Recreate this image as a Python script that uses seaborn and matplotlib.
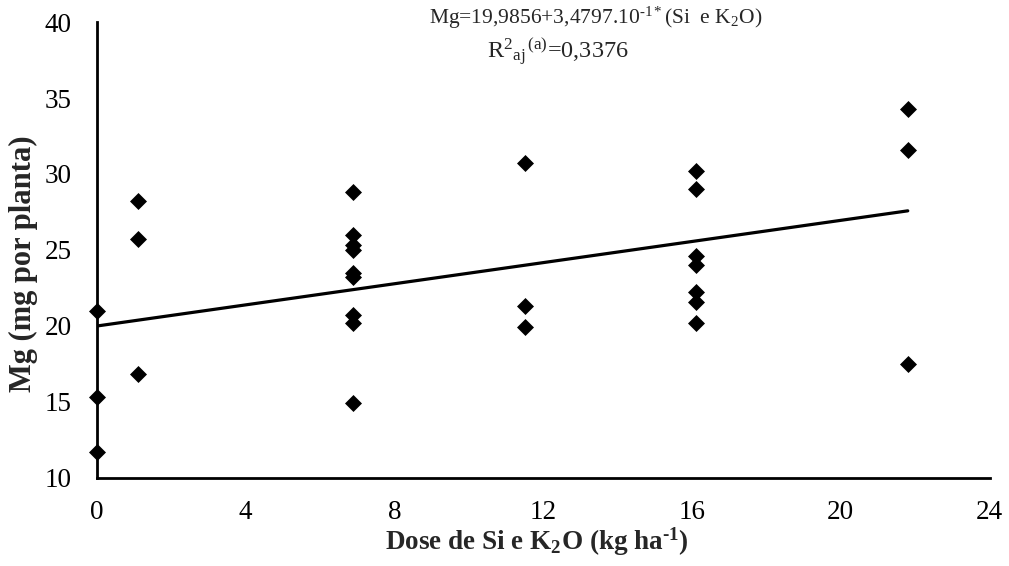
import numpy as np
import pandas as pd
import matplotlib
matplotlib.use("Agg")
import matplotlib.pyplot as plt
import seaborn as sns

# Data
dose = [0, 0, 0,
        1.1, 1.1, 1.1,
        6.9, 6.9, 6.9, 6.9, 6.9, 6.9, 6.9, 6.9, 6.9,
        11.5, 11.5, 11.5,
        16.1, 16.1, 16.1, 16.1, 16.1, 16.1, 16.1,
        21.8, 21.8, 21.8]
mg = [21.0, 15.3, 11.7,
      28.2, 25.7, 16.8,
      28.8, 26.0, 25.3, 25.0, 23.5, 23.2, 20.7, 20.2, 14.9,
      30.7, 21.3, 19.9,
      30.2, 29.0, 24.6, 24.0, 22.2, 21.6, 20.2,
      34.3, 31.6, 17.5]
intercept = 19.9856
slope = 0.34797
xticks = [0, 4, 8, 12, 16, 20, 24]
yticks = [10, 15, 20, 25, 30, 35, 40]

df = pd.DataFrame({"dose": dose, "mg": mg})
fit_x = np.array([min(dose), max(dose)])
fit = pd.DataFrame({"dose": fit_x, "mg": intercept + slope * fit_x})

sns.set_style("white")
plt.rcParams["font.family"] = ["Liberation Serif", "DejaVu Serif"]
plt.rcParams["mathtext.fontset"] = "custom"
plt.rcParams["mathtext.rm"] = "Liberation Serif"
plt.rcParams["mathtext.it"] = "Liberation Serif:italic"
plt.rcParams["mathtext.bf"] = "Liberation Serif:bold"

fig = plt.figure(figsize=(10.09, 5.66), dpi=100)
ax = fig.add_axes([0.0958, 0.156, 0.885, 0.805])

sns.lineplot(data=fit, x="dose", y="mg", ax=ax, color="black", lw=2.3, zorder=2)
sns.scatterplot(data=df, x="dose", y="mg", ax=ax, marker="D", s=75,
                color="black", edgecolor="black", linewidth=0, zorder=3,
                clip_on=False)

ax.set_xlim(0, 24)
ax.set_ylim(10, 40)
ax.set_xticks(xticks)
ax.set_yticks(yticks)
ax.tick_params(axis="both", labelsize=19.5, direction="out", length=6, width=2,
               color="black", labelcolor="black")
ax.tick_params(axis="x", pad=10)
ax.tick_params(axis="y", pad=12)
for s in ["top", "right"]:
    ax.spines[s].set_visible(False)
for s in ["left", "bottom"]:
    ax.spines[s].set_color("black")
    ax.spines[s].set_linewidth(2)

ax.set_xlabel("Dose de Si e K$_{\\mathbf{2}}$O (kg ha$^{\\mathbf{\u2010}\\mathbf{1}}$)",
              fontsize=19.5, fontweight="bold")
ax.set_ylabel("Mg (mg por planta)", fontsize=22, fontweight="bold")
ax.xaxis.set_label_coords(0.493, -0.105)
ax.yaxis.set_label_coords(-0.066, 0.47)

fig.text(0.59, 0.968,
         "Mg=19,9856+3,4797.10$^{\\mathrm{\u20101*}}$(Si  e K$_{\\mathrm{2}}$O)",
         ha="center", va="center", fontsize=15.5)
fig.text(0.553, 0.908,
         "R$^{\\mathrm{2}}{}_{\\mathrm{aj}}{}^{\\,\\mathrm{(a)}}$=0,3376",
         ha="center", va="center", fontsize=17.5)

fig.savefig("out.png", dpi=100)
